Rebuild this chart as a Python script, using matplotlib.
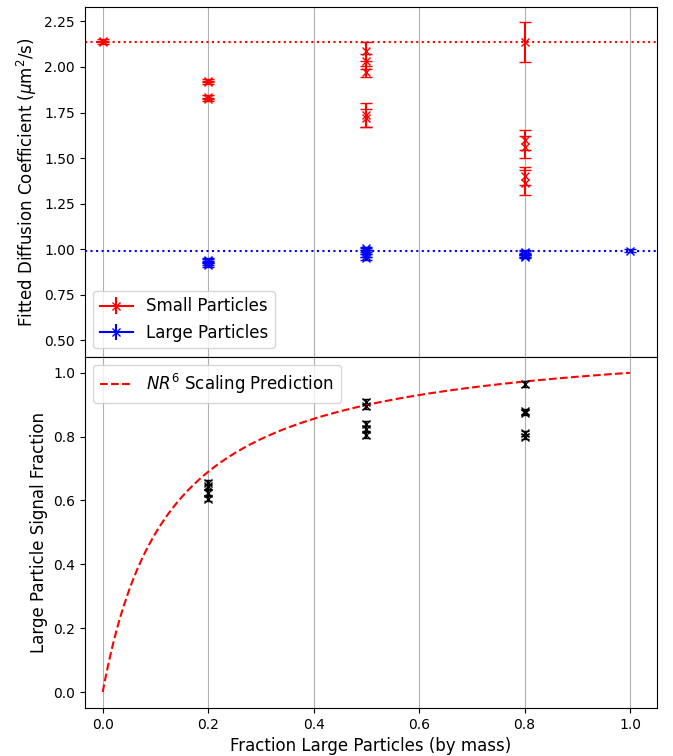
import numpy as np
import matplotlib.pyplot as plt

OUTPUT = "out.png"

# Fitted diffusion coefficients (um^2/s) per sample
small_frac = [0.0, 0.0, 0.2, 0.2, 0.2, 0.2, 0.5, 0.5, 0.5, 0.5, 0.5, 0.8, 0.8, 0.8, 0.8, 0.8]
small_D = [2.145, 2.135, 1.925, 1.915, 1.835, 1.822, 2.085, 2.03, 1.975, 1.735, 1.72,
           2.135, 1.60, 1.56, 1.40, 1.365]
small_err = [0.01, 0.01, 0.01, 0.01, 0.012, 0.01, 0.05, 0.04, 0.03, 0.065, 0.05,
             0.11, 0.055, 0.06, 0.05, 0.07]

large_frac = [0.2, 0.2, 0.2, 0.2, 0.5, 0.5, 0.5, 0.5, 0.5, 0.8, 0.8, 0.8, 0.8, 0.8, 1.0]
large_D = [0.94, 0.935, 0.925, 0.915, 1.005, 0.995, 0.985, 0.965, 0.95,
           0.985, 0.98, 0.97, 0.965, 0.96, 0.993]
large_err = [0.01, 0.01, 0.01, 0.01, 0.01, 0.01, 0.01, 0.01, 0.01,
             0.01, 0.01, 0.01, 0.01, 0.01, 0.006]

# Pure-sample reference values
D_small_pure = 2.135
D_large_pure = 0.993

# Large particle signal fraction
sig_frac = [0.2, 0.2, 0.2, 0.2, 0.5, 0.5, 0.5, 0.5, 0.5, 0.8, 0.8, 0.8, 0.8, 0.8]
sig_val = [0.655, 0.645, 0.625, 0.605, 0.91, 0.895, 0.84, 0.825, 0.805,
           0.965, 0.88, 0.875, 0.81, 0.80]
sig_err = [0.008] * len(sig_val)

# NR^6 prediction: signal ~ mass * R^3, radius ratio cubed
R_ratio_cubed = 8.9

fig = plt.figure(figsize=(6.73, 7.56), dpi=100)
ax1 = fig.add_axes([0.126, 0.528, 0.850, 0.463])
ax2 = fig.add_axes([0.126, 0.0635, 0.850, 0.4645], sharex=ax1)

# Top panel
ax1.errorbar(small_frac, small_D, yerr=small_err, fmt='x', color='red', capsize=4)
ax1.errorbar(large_frac, large_D, yerr=large_err, fmt='x', color='blue', capsize=4)
ax1.axhline(D_small_pure, color='red', ls=':')
ax1.axhline(D_large_pure, color='blue', ls=':')
# legend handles (line + marker + errorbar)
ax1.errorbar([], [], yerr=[], marker='x', color='red', capsize=4, label='Small Particles')
ax1.errorbar([], [], yerr=[], marker='x', color='blue', capsize=4, label='Large Particles')
ax1.set_ylim(0.41, 2.33)
ax1.set_ylabel(r"Fitted Diffusion Coefficient ($\mu$m$^2$/s)", fontsize=12)
ax1.legend(loc='lower left', fontsize=12)
ax1.grid(True, axis='x')
ax1.tick_params(labelbottom=False)

# Bottom panel
f = np.linspace(0, 1, 200)
pred = f * R_ratio_cubed / (f * R_ratio_cubed + (1 - f))
ax2.errorbar(sig_frac, sig_val, yerr=sig_err, fmt='x', color='black', capsize=3)
ax2.plot(f, pred, 'r--', label=r"$NR^6$ Scaling Prediction")
ax2.set_ylabel("Large Particle Signal Fraction", fontsize=12)
ax2.set_xlabel("Fraction Large Particles (by mass)", fontsize=12)
ax2.legend(loc='upper left', fontsize=12)
ax2.grid(True, axis='x')
ax2.set_xlim(-0.034, 1.051)

fig.savefig(OUTPUT)
